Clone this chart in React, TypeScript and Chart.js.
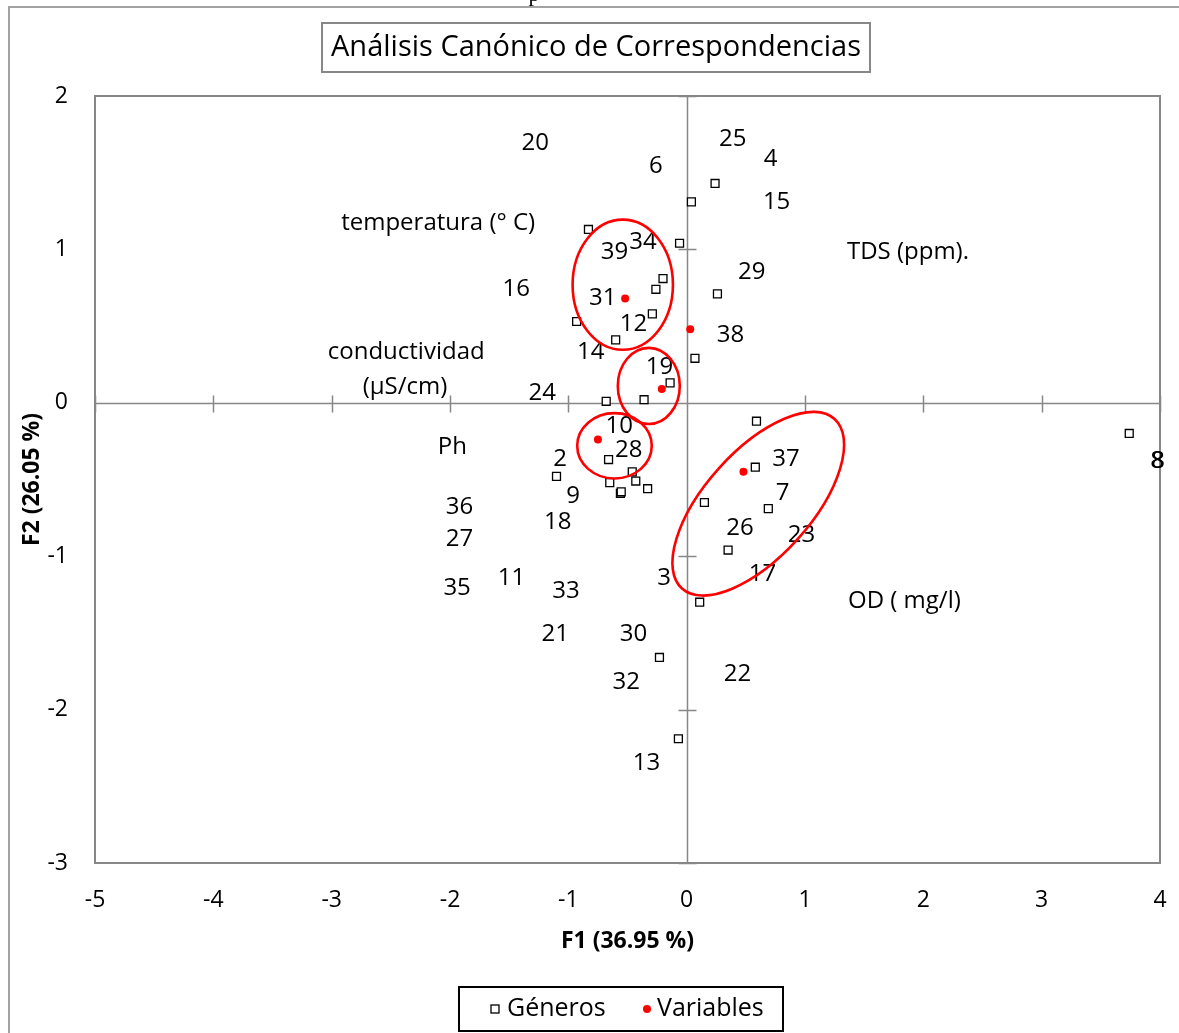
import React, { useEffect, useRef } from "react";
import { Chart, registerables } from "chart.js";

Chart.register(...registerables);

// ---- Data ----
const generosX = [0.24, 0.04, -0.83, -0.06, -0.2, -0.26, 0.26, -0.29, -0.93, -0.6, 0.07, -0.14, -0.68, -0.36, 0.59, -0.66, -1.1, -0.46, 0.58, -0.43, -0.65, -0.33, -0.56, -0.553, 0.15, 0.69, 0.35, 0.11, -0.23, -0.07, 3.74];
const generosY = [1.43, 1.31, 1.13, 1.04, 0.81, 0.74, 0.71, 0.58, 0.53, 0.41, 0.29, 0.13, 0.01, 0.02, -0.12, -0.37, -0.48, -0.45, -0.42, -0.51, -0.52, -0.56, -0.59, -0.58, -0.65, -0.69, -0.96, -1.3, -1.66, -2.19, -0.2];

const variablesX = [-0.52, 0.03, -0.21, -0.75, 0.48];
const variablesY = [0.68, 0.48, 0.09, -0.24, -0.45];

const labelTexts = ["20", "6", "25", "4", "15", "temperatura (° C)", "39", "34", "TDS (ppm).", "29", "16", "31", "12", "38", "conductividad", "14", "(µS/cm)", "19", "24", "10", "Ph", "28", "2", "37", "9", "7", "36", "18", "26", "23", "27", "11", "3", "17", "35", "33", "OD ( mg/l)", "21", "30", "22", "32", "13", "8", "8"];
const labelX = [-1.28, -0.26, 0.39, 0.71, 0.76, -2.1, -0.61, -0.37, 1.87, 0.55, -1.44, -0.71, -0.45, 0.37, -2.37, -0.81, -2.38, -0.23, -1.22, -0.57, -1.98, -0.49, -1.07, 0.84, -0.96, 0.81, -1.92, -1.09, 0.45, 0.97, -1.92, -1.48, -0.19, 0.64, -1.94, -1.02, 1.84, -1.11, -0.45, 0.43, -0.51, -0.34, 3.975, 3.985];
const labelY = [1.69, 1.54, 1.72, 1.59, 1.31, 1.17, 0.98, 1.05, 0.98, 0.85, 0.74, 0.68, 0.51, 0.44, 0.33, 0.33, 0.1, 0.23, 0.06, -0.15, -0.29, -0.31, -0.37, -0.37, -0.61, -0.59, -0.68, -0.78, -0.82, -0.86, -0.89, -1.14, -1.14, -1.12, -1.21, -1.23, -1.29, -1.51, -1.51, -1.77, -1.82, -2.35, -0.38, -0.38];

const xTicks = [-5, -4, -3, -2, -1, 0, 1, 2, 3, 4];
const yTicks = [-3, -2, -1, 0, 1, 2];

// group ellipses (data-space centers and radii)
const ellipseCX = [-0.54, -0.32, -0.61];
const ellipseCY = [0.77, 0.11, -0.28];
const ellipseRX = [0.424, 0.262, 0.315];
const ellipseRY = [0.424, 0.248, 0.213];
// rotated ellipse (data-space center)
const rotCX = 0.605;
const rotCY = -0.658;

const TITLE = "Análisis Canónico de Correspondencias";
const XTITLE = "F1 (36.95 %)";
const YTITLE = "F2 (26.05 %)";
const SERIES = ["Géneros", "Variables"];

const FONT = '"Open Sans", "Noto Sans", sans-serif';
const GRAY = "#878787";

export default function App() {
  const ref = useRef<HTMLCanvasElement>(null);

  useEffect(() => {
    document.body.style.margin = "0";
    const canvas = ref.current;
    if (!canvas) return;

    const overlay = {
      id: "overlay",
      beforeDraw(chart: any) {
        const ctx = chart.ctx;
        ctx.save();
        ctx.fillStyle = "#fff";
        ctx.fillRect(0, 0, chart.width, chart.height);
        // outer frame (left and top visible)
        ctx.strokeStyle = "#a3a3a3";
        ctx.lineWidth = 2;
        ctx.beginPath();
        ctx.moveTo(9, 1033);
        ctx.lineTo(9, 7);
        ctx.lineTo(1179, 7);
        ctx.stroke();
        // stray cut glyph at the top
        ctx.fillStyle = "#000";
        ctx.font = '22px "Liberation Serif", serif';
        ctx.textAlign = "center";
        ctx.textBaseline = "alphabetic";
        ctx.fillText("p", 534, 1);
        ctx.restore();
      },
      beforeDatasetsDraw(chart: any) {
        const ctx = chart.ctx;
        const a = chart.chartArea;
        const xs = chart.scales.x;
        const ys = chart.scales.y;
        ctx.save();
        ctx.strokeStyle = GRAY;
        ctx.lineWidth = 2;
        ctx.strokeRect(a.left, a.top, a.right - a.left, a.bottom - a.top);
        const x0 = Math.round(xs.getPixelForValue(0)) + 0.5;
        const y0 = Math.round(ys.getPixelForValue(0)) + 0.5;
        ctx.lineWidth = 1.5;
        ctx.beginPath();
        ctx.moveTo(x0, a.top);
        ctx.lineTo(x0, a.bottom);
        ctx.moveTo(a.left, y0);
        ctx.lineTo(a.right, y0);
        xTicks.forEach((v) => {
          const px = Math.round(xs.getPixelForValue(v)) + 0.5;
          ctx.moveTo(px, y0 - 8);
          ctx.lineTo(px, y0 + 9);
        });
        yTicks.forEach((v) => {
          const py = Math.round(ys.getPixelForValue(v)) + 0.5;
          ctx.moveTo(x0 - 9, py);
          ctx.lineTo(x0 + 9, py);
        });
        ctx.stroke();
        ctx.restore();
      },
      afterDraw(chart: any) {
        const ctx = chart.ctx;
        const xs = chart.scales.x;
        const ys = chart.scales.y;
        ctx.save();
        // point labels
        ctx.fillStyle = "#000";
        ctx.font = `24px ${FONT}`;
        ctx.textAlign = "center";
        ctx.textBaseline = "middle";
        labelTexts.forEach((t, i) => {
          ctx.fillText(t, xs.getPixelForValue(labelX[i]), ys.getPixelForValue(labelY[i]));
        });
        // ellipses
        ctx.strokeStyle = "#ff0000";
        ctx.lineWidth = 2.6;
        ellipseCX.forEach((cx, i) => {
          const px = xs.getPixelForValue(cx);
          const py = ys.getPixelForValue(ellipseCY[i]);
          const rx = Math.abs(xs.getPixelForValue(cx + ellipseRX[i]) - px);
          const ry = Math.abs(ys.getPixelForValue(ellipseCY[i] + ellipseRY[i]) - py);
          ctx.beginPath();
          ctx.ellipse(px, py, rx, ry, 0, 0, Math.PI * 2);
          ctx.stroke();
        });
        ctx.beginPath();
        ctx.ellipse(xs.getPixelForValue(rotCX), ys.getPixelForValue(rotCY), 114, 53, (-48 * Math.PI) / 180, 0, Math.PI * 2);
        ctx.stroke();

        // title box
        ctx.fillStyle = "#fff";
        ctx.fillRect(322, 23, 548, 49);
        ctx.strokeStyle = GRAY;
        ctx.lineWidth = 2;
        ctx.strokeRect(322, 23, 548, 49);
        ctx.fillStyle = "#000";
        ctx.font = `29px ${FONT}`;
        ctx.textAlign = "center";
        ctx.textBaseline = "middle";
        ctx.fillText(TITLE, 596, 48);

        // axis titles
        ctx.font = `bold 23px ${FONT}`;
        ctx.fillText(XTITLE, (chart.chartArea.left + chart.chartArea.right) / 2, 941);
        ctx.save();
        ctx.translate(32, (chart.chartArea.top + chart.chartArea.bottom) / 2);
        ctx.rotate(-Math.PI / 2);
        ctx.fillText(YTITLE, 0, 0);
        ctx.restore();

        // legend
        ctx.strokeStyle = "#000";
        ctx.lineWidth = 2;
        ctx.strokeRect(459, 987, 324, 44);
        const ly = 1009;
        ctx.fillStyle = "#fff";
        ctx.lineWidth = 1.3;
        ctx.fillRect(491, ly - 4, 8, 8);
        ctx.strokeRect(491, ly - 4, 8, 8);
        ctx.fillStyle = "#000";
        ctx.font = `25px ${FONT}`;
        ctx.textAlign = "left";
        ctx.fillText(SERIES[0], 507, ly);
        ctx.fillStyle = "#ff0000";
        ctx.beginPath();
        ctx.arc(647, ly, 4, 0, Math.PI * 2);
        ctx.fill();
        ctx.fillStyle = "#000";
        ctx.fillText(SERIES[1], 657, ly);
        ctx.restore();
      },
    };

    const chart = new Chart(canvas, {
      type: "scatter",
      data: {
        datasets: [
          {
            label: SERIES[0],
            data: generosX.map((x, i) => ({ x, y: generosY[i] })),
            pointStyle: "rect",
            pointRadius: 5.6,
            backgroundColor: "#ffffff",
            borderColor: "#000000",
            borderWidth: 1.3,
          },
          {
            label: SERIES[1],
            data: variablesX.map((x, i) => ({ x, y: variablesY[i] })),
            pointStyle: "circle",
            pointRadius: 4,
            backgroundColor: "#ff0000",
            borderColor: "#ff0000",
            borderWidth: 0,
          },
        ],
      },
      options: {
        animation: false,
        responsive: false,
        maintainAspectRatio: false,
        layout: { padding: { left: 0, right: 19, top: 96, bottom: 0 } },
        plugins: {
          legend: { display: false },
          title: { display: false },
          tooltip: { enabled: false },
        },
        scales: {
          x: {
            type: "linear",
            min: -5,
            max: 4,
            afterFit: (s: any) => {
              s.height = 170;
              s.paddingLeft = 0;
              s.paddingRight = 0;
            },
            afterBuildTicks: (s: any) => {
              s.ticks = xTicks.map((v) => ({ value: v }));
            },
            grid: { display: false, drawTicks: false },
            border: { display: false },
            ticks: {
              padding: 24,
              color: "#000",
              maxRotation: 0,
              autoSkip: false,
              font: { family: FONT, size: 23 },
            },
          },
          y: {
            type: "linear",
            min: -3,
            max: 2,
            afterFit: (s: any) => {
              s.width = 95;
              s.paddingTop = 0;
              s.paddingBottom = 0;
            },
            afterBuildTicks: (s: any) => {
              s.ticks = yTicks.map((v) => ({ value: v }));
            },
            grid: { display: false, drawTicks: false },
            border: { display: false },
            ticks: {
              padding: 27,
              color: "#000",
              autoSkip: false,
              font: { family: FONT, size: 23 },
            },
          },
        },
      },
      plugins: [overlay],
    } as any);

    return () => chart.destroy();
  }, []);

  return (
    <div style={{ width: 1179, height: 1033 }}>
      <canvas ref={ref} width={1179} height={1033} style={{ display: "block" }} />
    </div>
  );
}
